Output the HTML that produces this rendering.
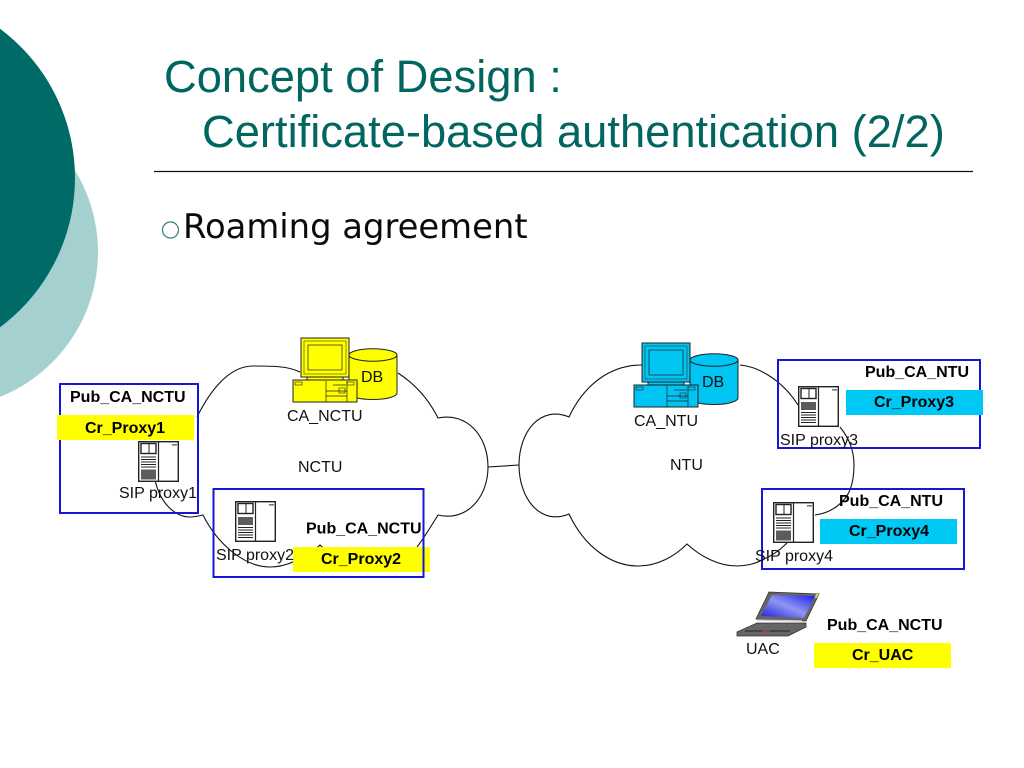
<!DOCTYPE html>
<html>
<head>
<meta charset="utf-8">
<style>
html,body{margin:0;padding:0;background:#fff}
svg{display:block}
text{font-family:"Liberation Sans",sans-serif;font-size:16px;fill:#111}
.b{font-weight:bold;fill:#000}
.t{font-size:45.3px;fill:#00665f}
.r{font-family:"DejaVu Sans",sans-serif;font-size:33.800px;fill:#0a0a0a}
</style>
</head>
<body>
<svg width="1024" height="768" viewBox="0 0 1024 768" xmlns="http://www.w3.org/2000/svg">
<defs>
<linearGradient id="scr" x1="0" y1="1" x2="1" y2="0">
<stop offset="0" stop-color="#1c1ce0"/>
<stop offset="0.5" stop-color="#8f97f2"/>
<stop offset="1" stop-color="#1c1ce8"/>
</linearGradient>
<g id="sbase">
<rect x="0.7" y="0.7" width="39.600" height="39.600" fill="#fff" stroke="#222" stroke-width="1.400"/>
<line x1="20.500" y1="0.700" x2="20.500" y2="40.300" stroke="#222" stroke-width="1.200"/>
<rect x="3" y="2.500" width="15" height="10" fill="#fff" stroke="#222" stroke-width="1.400"/>
<line x1="11" y1="2.500" x2="11" y2="12.500" stroke="#222"/>
<rect x="34" y="3" width="5" height="1.600" fill="#777"/>
</g>
<g id="serverA">
<use href="#sbase"/>
<g stroke="#222" stroke-width="1"><line x1="3" y1="16" x2="18" y2="16"/><line x1="3" y1="18.500" x2="18" y2="18.500"/><line x1="3" y1="21" x2="18" y2="21"/><line x1="3" y1="23.500" x2="18" y2="23.500"/><line x1="3" y1="26" x2="18" y2="26"/></g>
<rect x="3" y="28.500" width="15" height="10" fill="#5c5c5c"/>
</g>
<g id="serverB">
<use href="#sbase"/>
<rect x="3" y="16" width="15" height="8" fill="#5c5c5c"/>
<g stroke="#222" stroke-width="1"><line x1="3" y1="26.500" x2="18" y2="26.500"/><line x1="3" y1="29" x2="18" y2="29"/><line x1="3" y1="31.500" x2="18" y2="31.500"/><line x1="3" y1="34" x2="18" y2="34"/><line x1="3" y1="36.500" x2="18" y2="36.500"/></g>
</g>
<g id="pc" stroke="#222" stroke-width="1">
<path d="M349 355V393A24 6.500 0 0 0 397 393V355Z" fill="currentColor"/>
<ellipse cx="373" cy="355" rx="24" ry="6.200" fill="currentColor"/>
<rect x="301" y="338" width="48" height="39" fill="currentColor"/>
<rect x="304" y="341" width="42" height="33" fill="none" stroke-width="0.500"/>
<rect x="308" y="345" width="34" height="25" fill="currentColor" stroke-width="0.700"/>
<rect x="307" y="377" width="36" height="3" fill="currentColor"/>
<rect x="293" y="380" width="64" height="22" fill="currentColor"/>
<rect x="295" y="382" width="7" height="3" fill="none" stroke-width="0.600"/>
<rect x="347" y="382" width="7" height="3" fill="none" stroke-width="0.600"/>
<path d="M326 381V402M347 381V402M326 391H347M326 396H347M333 385H346" fill="none" stroke-width="0.700"/>
<rect x="339" y="388" width="6" height="5" fill="none" stroke-width="0.600"/>
</g>
</defs>

<rect width="1024" height="768" fill="#fff"/>
<circle cx="-58" cy="252" r="156" fill="#a5d0d0"/>
<circle cx="-111" cy="178" r="186" fill="#006a66"/>

<text class="t" x="164" y="92">Concept of Design :</text>
<text class="t" x="202" y="147">Certificate-based authentication (2/2)</text>
<line x1="154" y1="171.500" x2="973" y2="171.500" stroke="#111" stroke-width="1.200"/>

<circle cx="170.500" cy="230" r="8" fill="none" stroke="#2f7f7c" stroke-width="1.200"/>
<text class="r" x="183" y="238">Roaming agreement</text>

<!-- clouds -->
<g fill="none" stroke="#111" stroke-width="1.100">
<path d="M197 417C213 385 232 366 253 366C272 366 288 366 300 372M398 373C415 384 428 398 438 418C466 412 488 435 488 467C488 498 466 522 438 515C430 528 424 538 417 547"/>
<path d="M155 480C160 503 175 517 190 517C195 517 199 516 203 515C218 545 245 567 270 567C279 567 286 565 293 562C304 558 313 552 320 545C326 551 332 555 340 560"/>
<line x1="488" y1="467" x2="519" y2="465"/>
<path d="M642 365C610 365 584 385 569 417C540 405 519 432 519 465C519 498 540 526 569 514C585 548 612 566 638 566C658 566 675 556 687 544C700 556 718 566 737 566C745 566 755 564 762 560C772 556 780 550 787 543M815 515C832 513 845 502 850 490C853 482 854 474 854 465C854 450 849 438 840 427M798 405C785 384 762 367 740 365"/>
</g>

<!-- key bars and frames -->
<rect x="60" y="384" width="138" height="129" fill="none" stroke="#1616d8" stroke-width="2"/>
<rect x="778" y="360" width="202" height="88" fill="none" stroke="#1616d8" stroke-width="2"/>
<rect x="762" y="489" width="202" height="80" fill="none" stroke="#1616d8" stroke-width="2"/>
<rect x="57" y="415" width="137" height="25" fill="#ffff00"/>
<rect x="293" y="547" width="137" height="25" fill="#ffff00"/>
<rect x="213.500" y="489" width="210" height="88" fill="none" stroke="#1616d8" stroke-width="2"/>
<rect x="846" y="390" width="137" height="25" fill="#00c8f5"/>
<rect x="820" y="519" width="137" height="25" fill="#00c8f5"/>
<rect x="814" y="643" width="137" height="25" fill="#ffff00"/>

<!-- computers -->
<use href="#pc" style="color:#ffff00"/>
<use href="#pc" x="341" y="5" style="color:#00c4f2"/>

<!-- servers -->
<use href="#serverA" x="138" y="441"/>
<use href="#serverB" x="235" y="501"/>
<use href="#serverB" x="798" y="386"/>
<use href="#serverA" x="773" y="502"/>

<!-- laptop -->
<polygon points="769,592 819,594 806,621 756,619" fill="#666" stroke="#333" stroke-width="0.800"/>
<polygon points="772,595 815,596 804,618 761,616" fill="url(#scr)"/>
<polygon points="816,594 819,594 817,598 814.500,598" fill="#d8c860"/>
<polygon points="737,632 757,623 806,623 806,627 788,636 737,636" fill="#666" stroke="#333" stroke-width="0.800"/>
<line x1="745" y1="631" x2="790" y2="631" stroke="#222" stroke-width="1"/>
<line x1="757" y1="620" x2="802" y2="621" stroke="#ccc" stroke-width="1.500"/>
<rect x="762" y="630" width="8" height="1.500" fill="#a33"/>

<!-- labels -->
<text class="b" x="70" y="402">Pub_CA_NCTU</text>
<text class="b" x="85" y="433">Cr_Proxy1</text>
<text x="119" y="498">SIP proxy1</text>
<text x="361" y="382">DB</text>
<text x="287" y="421">CA_NCTU</text>
<text x="298" y="472">NCTU</text>
<text x="216" y="560">SIP proxy2</text>
<text class="b" x="306" y="533.500">Pub_CA_NCTU</text>
<text class="b" x="321" y="564">Cr_Proxy2</text>

<text x="702" y="387">DB</text>
<text x="634" y="426">CA_NTU</text>
<text x="670" y="470">NTU</text>
<text class="b" x="865" y="377">Pub_CA_NTU</text>
<text class="b" x="874" y="407">Cr_Proxy3</text>
<text x="780" y="445">SIP proxy3</text>
<text class="b" x="839" y="506">Pub_CA_NTU</text>
<text class="b" x="849" y="536">Cr_Proxy4</text>
<text x="755" y="561">SIP proxy4</text>
<text x="746" y="654">UAC</text>
<text class="b" x="827" y="630">Pub_CA_NCTU</text>
<text class="b" x="852" y="660">Cr_UAC</text>
</svg>
</body>
</html>
